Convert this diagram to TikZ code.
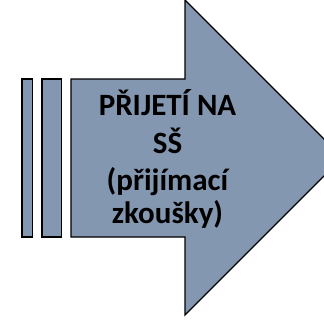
\documentclass[tikz,border=0pt]{standalone}
\usepackage{fontspec}
\setmainfont{Carlito}
\definecolor{arrowfill}{RGB}{132,151,176}
\begin{document}
\begin{tikzpicture}[x=1pt,y=-1pt,
  shapeline/.style={draw=black,line width=1.4pt,fill=arrowfill,line join=miter},
  label/.style={anchor=base,inner sep=0pt,font=\bfseries\fontsize{31}{34}\selectfont}]
\useasboundingbox (0,0) rectangle (324,324);
\clip (0,0) rectangle (324,324);
\draw[shapeline] (22,79) rectangle (32.5,237);
\draw[shapeline] (42,79) rectangle (61.5,237);
\draw[shapeline] (71,79) -- (185,79) -- (185,0) -- (342.5,157.5) -- (185,315) -- (185,237) -- (71,237) -- cycle;
\node[label] (l1) at (167.5,115) {PŘIJETÍ NA};
\node[label] (l2) at (167.5,153) {SŠ};
\node[label] (l3) at (167.5,190) {(přijímací};
\node[label] (l4) at (167.5,223) {zkoušky)};
\end{tikzpicture}
\end{document}
